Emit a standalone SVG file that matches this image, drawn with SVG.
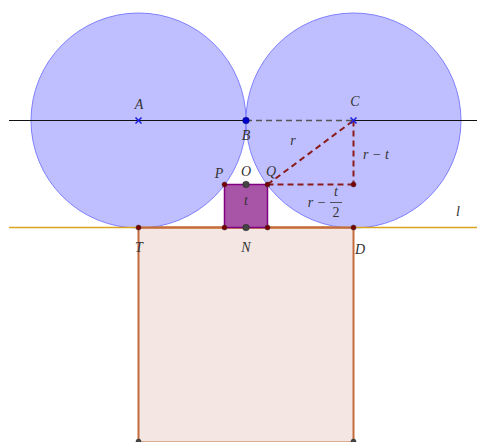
<svg xmlns="http://www.w3.org/2000/svg" width="477" height="442" viewBox="0 0 477 442">
<style>
.lbl{font-family:"Liberation Serif","DejaVu Serif",serif;font-style:italic;font-size:14px;fill:#333;text-anchor:middle}
.circ{fill:#bfbfff;stroke:#7f7fff;stroke-width:1}
.dash{fill:none;stroke:#8b1a1a;stroke-width:2;stroke-dasharray:6,4}
.dot{fill:#7a0000;stroke:#333;stroke-width:0.5}
.gdot{fill:#444;stroke:#222;stroke-width:0.5}
.xm{stroke:#2020e0;stroke-width:1.6}
</style>
<g id="square-big">
<rect x="138.5" y="227.5" width="215" height="215" fill="#f4e7e3" stroke="#c46a3e" stroke-width="2"/>
</g>
<g id="circle-A"><circle class="circ" cx="138.5" cy="120.5" r="107.5"/></g>
<g id="circle-C"><circle class="circ" cx="353.5" cy="120.5" r="107.5"/></g>
<g id="lines">
<line x1="9" y1="120.5" x2="246" y2="120.5" stroke="#111" stroke-width="1.2"/>
<line x1="353.5" y1="120.5" x2="477" y2="120.5" stroke="#111" stroke-width="1.2"/>
<line x1="246" y1="120.5" x2="353.5" y2="120.5" stroke="#555" stroke-width="1.6" stroke-dasharray="6,4"/>
<line x1="9" y1="227.5" x2="477" y2="227.5" stroke="#d9a520" stroke-width="1.5"/>
<line x1="138.5" y1="227.5" x2="353.5" y2="227.5" stroke="#c46a3e" stroke-width="2"/>
<line class="dash" x1="267.5" y1="184.5" x2="353.5" y2="120.5"/>
<line class="dash" x1="353.5" y1="120.5" x2="353.5" y2="184.5"/>
<line class="dash" x1="267.5" y1="184.5" x2="353.5" y2="184.5"/>
</g>
<g id="square-small">
<rect x="224.5" y="184.5" width="43" height="43" fill="#a855a8" stroke="#800080" stroke-width="1.5"/>
</g>
<g id="points">
<g id="A"><line class="xm" x1="135.5" y1="117.5" x2="141.5" y2="123.5"/><line class="xm" x1="135.5" y1="123.5" x2="141.5" y2="117.5"/></g>
<g id="C"><line class="xm" x1="350.5" y1="117.5" x2="356.5" y2="123.5"/><line class="xm" x1="350.5" y1="123.5" x2="356.5" y2="117.5"/></g>
<circle id="B" cx="246" cy="120.5" r="3.3" fill="#0000cc" stroke="#000066" stroke-width="0.5"/>
<circle id="O" class="gdot" cx="246" cy="184.5" r="3.3"/>
<circle id="N" class="gdot" cx="246" cy="227.5" r="3.3"/>
<circle id="P" class="dot" cx="224.5" cy="184.5" r="2.5"/>
<circle id="Q" class="dot" cx="267.5" cy="184.5" r="2.5"/>
<circle class="dot" cx="224.5" cy="227.5" r="2.5"/>
<circle class="dot" cx="267.5" cy="227.5" r="2.5"/>
<circle id="T" class="dot" cx="138.5" cy="227.5" r="2.5"/>
<circle id="D" class="dot" cx="353.5" cy="227.5" r="2.5"/>
<circle class="dot" cx="353.5" cy="184.5" r="2.5"/>
<circle class="gdot" cx="138.5" cy="441.5" r="2.5"/>
<circle class="gdot" cx="353.5" cy="441.5" r="2.5"/>
</g>
<g id="labels">
<text class="lbl" x="139" y="109">A</text>
<text class="lbl" x="246" y="140">B</text>
<text class="lbl" x="355" y="106">C</text>
<text class="lbl" x="219" y="178">P</text>
<text class="lbl" x="246" y="176">O</text>
<text class="lbl" x="271" y="176">Q</text>
<text class="lbl" x="246" y="205">t</text>
<text class="lbl" x="139" y="252">T</text>
<text class="lbl" x="246" y="252">N</text>
<text class="lbl" x="360" y="254">D</text>
<text class="lbl" x="458" y="216">l</text>
<text class="lbl" x="293" y="145">r</text>
<text class="lbl" x="376" y="159">r − t</text>
<text class="lbl" x="317" y="207">r −</text>
<text class="lbl" x="336" y="196">t</text>
<line x1="330" y1="202.5" x2="342" y2="202.5" stroke="#333" stroke-width="0.8"/>
<text class="lbl" x="336" y="217" style="font-style:normal">2</text>
</g>
</svg>
